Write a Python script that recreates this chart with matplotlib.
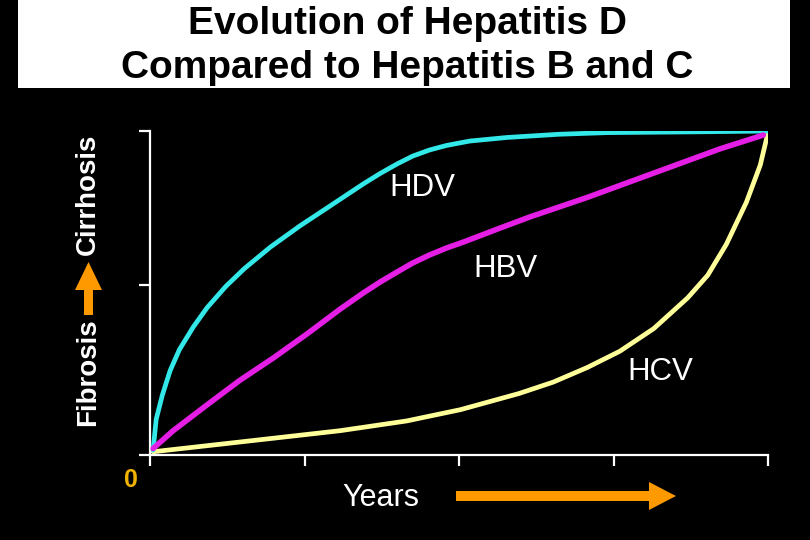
import matplotlib
matplotlib.use("Agg")
import matplotlib.pyplot as plt
import matplotlib.patches as mpatches

# Curves (x in "years" units 0-4, y in stage units 0-2)
hdv_x = [0.02, 0.04, 0.08, 0.13, 0.19, 0.28, 0.37, 0.49, 0.61, 0.78, 0.97, 1.165,
         1.38, 1.49, 1.60, 1.70, 1.81, 1.92, 2.07, 2.31, 2.65, 2.96, 3.56, 4.0]
hdv_y = [0.03, 0.22, 0.37, 0.52, 0.65, 0.79, 0.91, 1.04, 1.15, 1.284, 1.414, 1.537,
         1.673, 1.738, 1.797, 1.845, 1.883, 1.911, 1.938, 1.96, 1.98, 1.99, 1.995, 2.0]

hbv_x = [0.02, 0.15, 0.37, 0.58, 0.80, 1.02, 1.23, 1.38, 1.49, 1.60, 1.70, 1.81,
         1.92, 2.03, 2.25, 2.46, 2.83, 3.26, 3.69, 3.97]
hbv_y = [0.04, 0.15, 0.31, 0.46, 0.60, 0.75, 0.90, 1.00, 1.068, 1.13, 1.185, 1.235,
         1.278, 1.315, 1.395, 1.47, 1.59, 1.74, 1.89, 1.975]

hcv_x = [0.02, 0.58, 1.23, 1.66, 2.01, 2.39, 2.61, 2.83, 3.04, 3.26, 3.48, 3.61,
         3.73, 3.86, 3.95, 4.0]
hcv_y = [0.02, 0.08, 0.15, 0.21, 0.28, 0.38, 0.45, 0.54, 0.64, 0.78, 0.97, 1.11,
         1.30, 1.56, 1.79, 1.99]

x_ticks = [0, 1, 2, 3, 4]
y_ticks = [0, 1.05, 2]

title_1 = "Evolution of Hepatitis D"
title_2 = "Compared to Hepatitis B and C"
font = ["Liberation Sans", "DejaVu Sans"]
orange = "#ff9900"

fig = plt.figure(figsize=(8.1, 5.4), dpi=100)
fig.patch.set_facecolor("black")

W, H = 810.0, 540.0


def fx(px):
    return px / W


def fy(py):
    return 1 - py / H


# White title box
fig.patches.append(mpatches.Rectangle((fx(18), fy(88)), fx(772), 88 / H,
                                      transform=fig.transFigure,
                                      facecolor="white", edgecolor="none"))
fig.text(fx(407), fy(34), title_1, ha="center", va="baseline", color="black",
         fontsize=28, fontweight="bold", family=font)
fig.text(fx(407), fy(78), title_2, ha="center", va="baseline", color="black",
         fontsize=28, fontweight="bold", family=font)

ax = fig.add_axes([fx(150), fy(455), 618 / W, 324 / H])
ax.set_facecolor("black")

ax.plot(hdv_x, hdv_y, color="#33e8e8", lw=3.4, solid_capstyle="round",
        solid_joinstyle="round", zorder=3)
ax.plot(hbv_x, hbv_y, color="#e41ee4", lw=4.0, solid_capstyle="round",
        solid_joinstyle="round", zorder=3)
ax.plot(hcv_x, hcv_y, color="#ffff99", lw=3.4, solid_capstyle="round",
        solid_joinstyle="round", zorder=2)

ax.text(1.76, 1.65, "HDV", color="white", fontsize=22.5, family=font, ha="center", va="center")
ax.text(2.30, 1.15, "HBV", color="white", fontsize=22.5, family=font, ha="center", va="center")
ax.text(3.30, 0.51, "HCV", color="white", fontsize=22.5, family=font, ha="center", va="center")

ax.set_xlim(0, 4)
ax.set_ylim(0, 2)
ax.set_xticks(x_ticks)
ax.set_yticks(y_ticks)
ax.set_xticklabels([])
ax.set_yticklabels([])
for side in ["top", "right"]:
    ax.spines[side].set_visible(False)
for side in ["left", "bottom"]:
    ax.spines[side].set_color("white")
    ax.spines[side].set_linewidth(1.6)
ax.tick_params(axis="x", colors="white", direction="out", length=8, width=1.6)
ax.tick_params(axis="y", colors="white", direction="out", length=8, width=1.6)

# "0" at origin
fig.text(fx(131), fy(480), "0", color="#f0b400", fontsize=18,
         fontweight="bold", family=font, ha="center", va="center")

# Years label with orange arrow
fig.text(fx(381), fy(498), "Years", color="white", fontsize=22,
         family=font, ha="center", va="center")
fig.patches.append(mpatches.FancyArrow(fx(456), fy(496), 193 / W, 0,
                                       width=10 / H, head_width=28 / H,
                                       head_length=27 / W, length_includes_head=False,
                                       transform=fig.transFigure,
                                       color=orange, lw=0))

# Y label: Fibrosis -> Cirrhosis with orange arrow
fig.text(fx(88), fy(372), "Fibrosis", color="white", fontsize=20,
         fontweight="bold", family=font, rotation=90, ha="center", va="center")
fig.text(fx(88), fy(194), "Cirrhosis", color="white", fontsize=20,
         fontweight="bold", family=font, rotation=90, ha="center", va="center")
fig.patches.append(mpatches.FancyArrow(fx(88.5), fy(315), 0, 25 / H,
                                       width=9 / W, head_width=27 / W,
                                       head_length=28 / H, length_includes_head=False,
                                       transform=fig.transFigure,
                                       color=orange, lw=0))

fig.savefig("out.png", dpi=100, facecolor="black")
